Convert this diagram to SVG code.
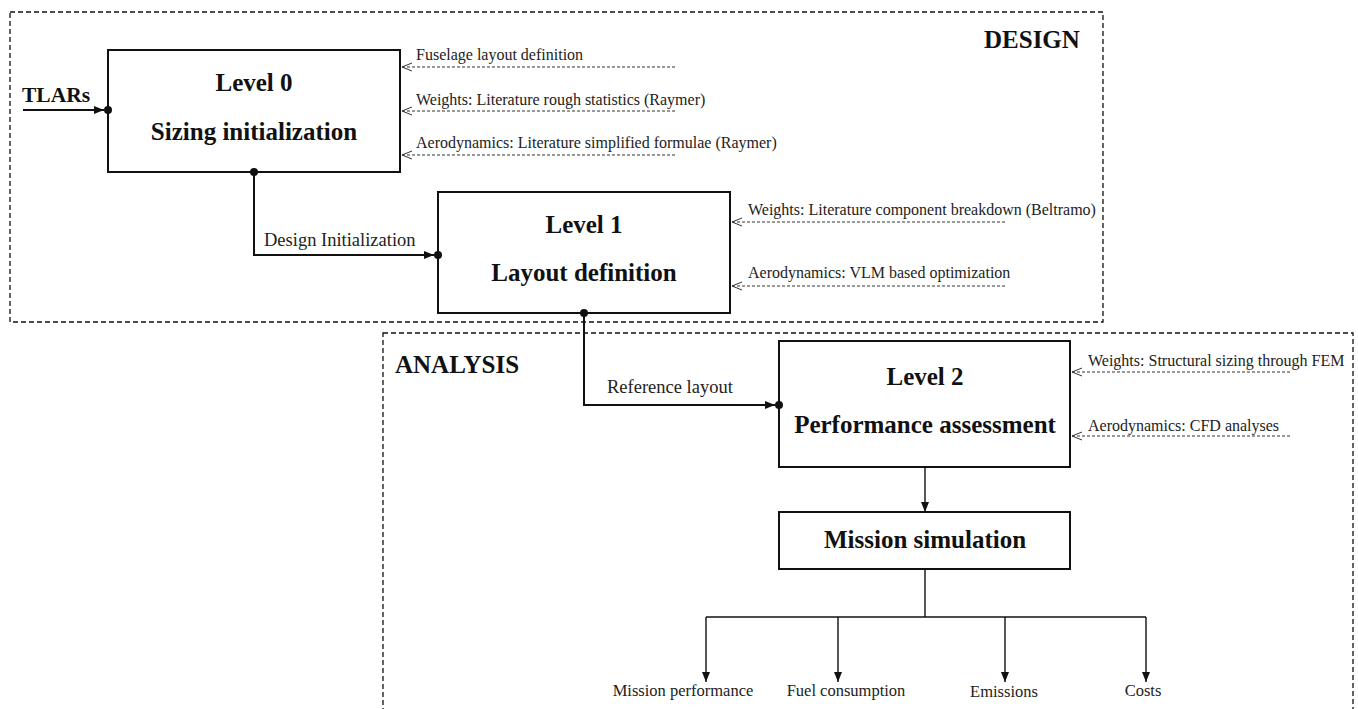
<svg xmlns="http://www.w3.org/2000/svg" width="1358" height="709" viewBox="0 0 1358 709">
  <style>
    .frame { fill: none; stroke: #111; stroke-width: 1.3; stroke-dasharray: 5 3; }
    .box { fill: #fff; stroke: #111; stroke-width: 2; }
    .wire { fill: none; stroke: #111; stroke-width: 2; }
    .thin { fill: none; stroke: #111; stroke-width: 1.4; }
    .feed { fill: none; stroke: #333; stroke-width: 1; stroke-dasharray: 3 2; }
    .title { font-family: "Liberation Serif", serif; font-weight: bold; font-size: 25px; fill: #111; text-anchor: middle; }
    .zone { font-family: "Liberation Serif", serif; font-weight: bold; font-size: 25px; fill: #111; }
    .note { font-family: "Liberation Serif", serif; font-size: 16px; fill: #222; }
    .label { font-family: "Liberation Serif", serif; font-size: 18.5px; fill: #222; }
    .out { font-family: "Liberation Serif", serif; font-size: 16.5px; fill: #222; text-anchor: middle; }
    .dot { fill: #111; }
  </style>
  <defs>
    <marker id="solid" viewBox="0 0 10 10" refX="10" refY="5" markerWidth="10" markerHeight="10" markerUnits="userSpaceOnUse" orient="auto">
      <path d="M0,1 L10,5 L0,9 Z" fill="#111"/>
    </marker>
    <marker id="open" viewBox="0 0 10 10" refX="0" refY="5" markerWidth="10" markerHeight="10" markerUnits="userSpaceOnUse" orient="auto">
      <path d="M10,1 L0,5 L10,9" fill="none" stroke="#333" stroke-width="1"/>
    </marker>
  </defs>

  <!-- Zones -->
  <g id="zone-design">
    <rect class="frame" x="10" y="12" width="1093" height="310"/>
    <text class="zone" x="984" y="48">DESIGN</text>
  </g>
  <g id="zone-analysis">
    <rect class="frame" x="383" y="333" width="970" height="400"/>
    <text class="zone" x="395" y="373">ANALYSIS</text>
  </g>

  <!-- Nodes -->
  <g id="level0">
    <rect class="box" x="108" y="50" width="292" height="122"/>
    <text class="title" x="254" y="91">Level 0</text>
    <text class="title" x="254" y="140">Sizing initialization</text>
  </g>
  <g id="level1">
    <rect class="box" x="438" y="192" width="292" height="121"/>
    <text class="title" x="584" y="233">Level 1</text>
    <text class="title" x="584" y="281">Layout definition</text>
  </g>
  <g id="level2">
    <rect class="box" x="779" y="341" width="291" height="126"/>
    <text class="title" x="925" y="385">Level 2</text>
    <text class="title" x="925" y="433">Performance assessment</text>
  </g>
  <g id="mission">
    <rect class="box" x="779" y="512" width="291" height="57"/>
    <text class="title" x="925" y="548">Mission simulation</text>
  </g>

  <!-- Inputs -->
  <g id="inputs">
    <text class="zone" x="22" y="102" style="font-size:21.5px">TLARs</text>
    <text class="note" x="416" y="60">Fuselage layout definition</text>
    <text class="note" x="416" y="105">Weights: Literature rough statistics (Raymer)</text>
    <text class="note" x="416" y="148">Aerodynamics: Literature simplified formulae (Raymer)</text>
    <text class="note" x="748" y="215">Weights: Literature component breakdown (Beltramo)</text>
    <text class="note" x="748" y="278">Aerodynamics: VLM based optimization</text>
    <text class="note" x="1088" y="366">Weights: Structural sizing through FEM</text>
    <text class="note" x="1088" y="431">Aerodynamics: CFD analyses</text>
  </g>

  <!-- Outputs -->
  <g id="outputs">
    <text class="out" x="683" y="696">Mission performance</text>
    <text class="out" x="846" y="696">Fuel consumption</text>
    <text class="out" x="1004" y="697">Emissions</text>
    <text class="out" x="1143" y="696">Costs</text>
  </g>

  <!-- Connectors -->
  <g id="connectors">
    <path class="wire" d="M23,110 H104" marker-end="url(#solid)"/>
    <circle class="dot" cx="108" cy="110" r="4"/>

    <circle class="dot" cx="254" cy="172" r="4"/>
    <path class="wire" d="M254,172 V255 H434" marker-end="url(#solid)"/>
    <circle class="dot" cx="438" cy="255" r="4"/>
    <text class="label" x="264" y="246">Design Initialization</text>

    <circle class="dot" cx="584" cy="313" r="4"/>
    <path class="wire" d="M584,313 V405 H775" marker-end="url(#solid)"/>
    <circle class="dot" cx="779" cy="405" r="4"/>
    <text class="label" x="607" y="393">Reference layout</text>

    <path class="thin" d="M925,467 V512" marker-end="url(#solid)"/>
    <path class="thin" d="M925,569 V617"/>
    <path class="thin" d="M706,617 H1146"/>
    <path class="thin" d="M706,617 V682" marker-end="url(#solid)"/>
    <path class="thin" d="M838,617 V682" marker-end="url(#solid)"/>
    <path class="thin" d="M1005,617 V682" marker-end="url(#solid)"/>
    <path class="thin" d="M1146,617 V682" marker-end="url(#solid)"/>

    <path class="feed" d="M402,67 H676" marker-start="url(#open)"/>
    <path class="feed" d="M402,111 H676" marker-start="url(#open)"/>
    <path class="feed" d="M402,155 H676" marker-start="url(#open)"/>
    <path class="feed" d="M732,222 H1005" marker-start="url(#open)"/>
    <path class="feed" d="M732,286 H1005" marker-start="url(#open)"/>
    <path class="feed" d="M1072,372 H1292" marker-start="url(#open)"/>
    <path class="feed" d="M1072,436 H1292" marker-start="url(#open)"/>
  </g>
</svg>
